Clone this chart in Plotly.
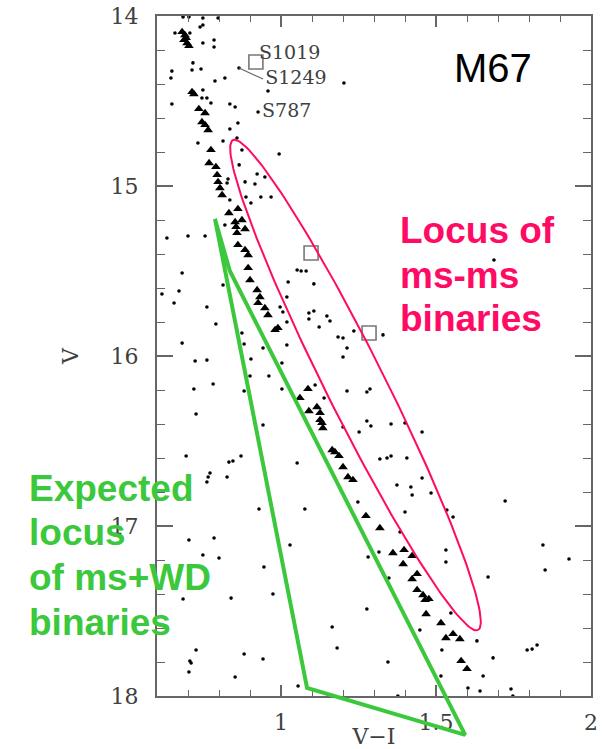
import plotly.graph_objects as go
import math

# ---------------- data (V-I, V) ----------------
tri_vi = [0.681, 0.690, 0.687, 0.694, 0.697, 0.703, 0.713, 0.719,
          0.735, 0.755, 0.745, 0.755, 0.765, 0.774, 0.768, 0.790, 0.794, 0.797, 0.803, 0.810,
          0.832, 0.852, 0.855, 0.858, 0.874, 0.861, 0.884,
          0.861, 0.884, 0.894, 0.894, 0.900, 0.923, 0.932, 0.926, 0.948, 0.958, 0.981, 0.990,
          1.087, 1.061, 1.090, 1.116, 1.126, 1.126, 1.132, 1.135,
          1.165, 1.174, 1.187, 1.200, 1.216, 1.232,
          1.274, 1.319, 1.361, 1.397, 1.423, 1.394, 1.439, 1.423, 1.439, 1.458, 1.465, 1.477,
          1.468, 1.516, 1.532, 1.555, 1.577, 1.581, 1.600]
tri_v = [14.094, 14.112, 14.141, 14.129, 14.159, 14.176, 14.447, 14.459,
         14.547, 14.571, 14.624, 14.641, 14.671, 14.788, 14.865, 14.888, 14.935, 14.976, 15.012, 15.053,
         15.159, 15.212, 15.241, 15.276, 15.200, 15.135, 15.253,
         15.347, 15.376, 15.406, 15.482, 15.553, 15.612, 15.653, 15.688, 15.718, 15.759, 15.847, 15.835,
         16.194, 16.247, 16.324, 16.300, 16.335, 16.376, 16.394, 16.424,
         16.553, 16.565, 16.588, 16.653, 16.712, 16.729,
         16.941, 17.012, 17.159, 17.141, 17.176, 17.224, 17.282, 17.312, 17.376, 17.406, 17.435, 17.429,
         17.518, 17.571, 17.659, 17.635, 17.665, 17.794, 17.841]

dot_vi = [0.684, 0.703, 0.748, 0.797, 0.658, 0.706, 0.748, 0.784, 0.784, 0.748, 0.739,
          0.716, 0.713, 0.742, 0.648, 0.645, 0.787, 0.819,
          0.748, 0.745, 0.761, 0.774, 0.648, 0.835, 0.852, 0.926, 0.958, 1.203,
          0.861, 0.835, 0.732, 0.813, 0.858,
          0.874, 0.994, 0.865, 0.923, 0.948, 0.884, 0.829, 0.826, 0.916, 0.835, 0.887, 0.903, 0.935, 0.968,
          0.819, 0.632, 0.700, 0.755,
          0.681, 0.813, 0.671, 0.616, 0.655, 0.761, 0.790, 0.681, 0.874, 0.881, 0.942, 1.019,
          0.723, 0.761, 0.903, 1.003, 0.900, 0.961, 0.781, 0.719, 0.881, 1.003, 0.726, 0.942,
          0.694, 0.832, 0.845, 0.871, 1.052,
          1.052, 1.023, 1.019, 0.997, 1.006, 1.019,
          1.065, 1.081, 1.106, 1.090, 1.106, 1.090, 1.148, 1.158, 1.123, 1.184, 1.200, 1.235, 1.329,
          1.213, 1.200,
          1.213, 1.277, 1.287, 1.110, 1.139, 1.277, 1.290, 1.252, 1.200, 1.355, 1.400, 1.455,
          1.319, 1.342, 1.355, 1.406, 1.687,
          0.771, 0.765, 0.761, 0.826, 0.929, 1.077, 0.703, 0.784, 0.748, 0.800, 1.029, 0.945,
          0.684, 0.839, 0.974, 1.165, 1.181, 1.277, 1.281, 1.316, 1.348, 1.248,
          0.726, 0.706, 0.710, 0.703, 0.881, 0.942, 0.852, 1.055, 1.345,
          1.374, 1.419, 1.423, 1.455, 1.484, 1.400, 1.535, 1.555, 1.384, 1.532, 1.532,
          1.723, 1.845, 1.929, 1.852, 1.668, 1.548, 1.448, 1.632, 1.519, 1.794, 1.810, 1.826,
          1.684, 1.516, 1.652, 1.603, 1.642, 1.742, 1.748, 1.377, 0.8645]
dot_v = [14.006, 14.006, 14.012, 14.012, 14.100, 14.100, 14.159, 14.141, 14.182, 14.053, 14.065,
         14.276, 14.318, 14.312, 14.324, 14.365, 14.382, 14.365,
         14.435, 14.482, 14.482, 14.512, 14.518, 14.518, 14.535, 14.565, 14.441, 14.394,
         14.629, 14.665, 14.747, 14.735, 14.718,
         14.788, 14.812, 14.876, 14.929, 14.947, 14.976, 14.959, 14.982, 14.988, 15.082, 15.065, 15.100, 15.065, 15.065,
         15.229, 15.306, 15.294, 15.294,
         15.512, 15.582, 15.618, 15.635, 15.688, 15.712, 15.812, 15.924, 15.865, 15.929, 15.953, 15.935,
         16.029, 16.024, 16.018, 16.041, 16.118, 16.118, 16.165, 16.194, 16.206, 16.194, 16.341, 16.406,
         16.588, 16.624, 16.618, 16.588, 16.629,
         15.494, 15.565, 15.653, 15.712, 15.741, 15.800,
         15.500, 15.500, 15.576, 15.747, 15.735, 15.782, 15.765, 15.794, 15.829, 15.888, 15.894, 15.853, 15.876,
         15.953, 16.006,
         16.206, 16.212, 16.194, 16.171, 16.247, 16.382, 16.412, 16.447, 16.418, 16.400, 16.394, 16.447,
         16.606, 16.600, 16.588, 16.600, 15.435,
         16.688, 16.712, 16.741, 16.712, 16.900, 16.900, 17.082, 17.071, 17.171, 17.188, 17.112, 17.241,
         17.429, 17.424, 17.400, 17.594, 17.718, 17.488, 17.182, 17.153, 17.306, 16.859,
         17.729, 17.794, 17.806, 17.859, 17.753, 17.782, 17.888, 17.941, 17.800,
         16.759, 16.771, 16.818, 16.718, 16.806, 16.918, 16.906, 16.947, 17.035, 17.141, 17.212,
         16.853, 17.112, 17.194, 17.259, 17.300, 17.512, 17.612, 17.676, 17.729, 17.729, 17.724, 17.700,
         17.776, 17.882, 17.882, 17.953, 17.971, 17.959, 18.000, 18.000, 14.306]

# highlighted stars (open squares) and their labels
sq_vi = [0.919, 1.097, 1.284]
sq_v = [14.271, 15.394, 15.865]
star_names = ["S1019", "S1249", "S787"]
star_label_vi = [0.929, 0.949, 0.939]
star_label_v = [14.224, 14.371, 14.565]
s1249_vi = [0.8645, 0.9419]          # pointer from the S1249 star to its label
s1249_v = [14.306, 14.371]

# expected ms+WD binaries locus (polygon corners)
wd_vi = [0.787, 0.835, 1.594, 1.084, 0.787]
wd_v = [15.194, 15.500, 18.229, 17.953, 15.194]

# ms-ms binaries locus (ellipse: centre + two conjugate semi-axes, data units)
ell_center = (1.2403, 16.171)
ell_major = (0.3952, 1.441)
ell_minor = (0.0851, -0.0776)

x_range = [0.6, 2.0]
y_range = [18.0, 14.0]

PINK = "#FF0A64"
GREEN = "#3CC83C"
AXC = "#666666"
TXT = "#404040"
W, H = 609, 749

n_e = 200
ell_x = [ell_center[0] + ell_major[0] * math.cos(2 * math.pi * k / n_e) + ell_minor[0] * math.sin(2 * math.pi * k / n_e) for k in range(n_e + 1)]
ell_y = [ell_center[1] + ell_major[1] * math.cos(2 * math.pi * k / n_e) + ell_minor[1] * math.sin(2 * math.pi * k / n_e) for k in range(n_e + 1)]

# ---------------- layout geometry ----------------
xdom = [157 / W, 591 / W]
ydom = [1 - 696 / H, 1 - 16 / H]

def full_range(r, d):
    span = (r[1] - r[0]) / (d[1] - d[0])
    return [r[0] - d[0] * span, r[1] + (1 - d[1]) * span]

x2_range = full_range(x_range, xdom)
y2_range = full_range(y_range, ydom)

fig = go.Figure()
fig.add_trace(go.Scatter(x=dot_vi, y=dot_v, mode="markers",
                         marker=dict(symbol="circle", size=3.6, color="black"),
                         hoverinfo="skip", showlegend=False))
fig.add_trace(go.Scatter(x=tri_vi, y=tri_v, mode="markers",
                         marker=dict(symbol="triangle-up", size=8.5, color="black"),
                         hoverinfo="skip", showlegend=False))
fig.add_trace(go.Scatter(x=sq_vi, y=sq_v, mode="markers",
                         marker=dict(symbol="square-open", size=14, color="#777777", line=dict(width=1.6)),
                         hoverinfo="skip", showlegend=False))
fig.add_trace(go.Scatter(x=s1249_vi, y=s1249_v, mode="lines",
                         line=dict(color="#666666", width=1.2),
                         hoverinfo="skip", showlegend=False))
fig.add_trace(go.Scatter(x=ell_x, y=ell_y, mode="lines",
                         line=dict(color=PINK, width=2),
                         hoverinfo="skip", showlegend=False))
fig.add_trace(go.Scatter(x=star_label_vi, y=star_label_v, mode="text", text=star_names,
                         textposition="middle right",
                         textfont=dict(family="DejaVu Serif", size=19, color=TXT),
                         hoverinfo="skip", showlegend=False))
# polygon on a full-page overlay with identical scale, so it may extend below the frame
fig.add_trace(go.Scatter(x=wd_vi, y=wd_v, mode="lines", xaxis="x2", yaxis="y2",
                         line=dict(color=GREEN, width=4),
                         hoverinfo="skip", showlegend=False))

tickfont = dict(family="DejaVu Serif", size=22, color=TXT)
fig.update_layout(
    width=W, height=H,
    margin=dict(l=0, r=0, t=0, b=0),
    paper_bgcolor="white", plot_bgcolor="rgba(0,0,0,0)",
    xaxis=dict(domain=xdom, range=x_range, showgrid=False, zeroline=False,
               showline=True, linecolor=AXC, linewidth=2, mirror="ticks",
               ticks="inside", ticklen=11, tickwidth=1.5, tickcolor=AXC,
               dtick=0.5, tick0=0, tickfont=tickfont, ticklabelstandoff=6,
               minor=dict(ticks="inside", ticklen=6, dtick=0.1, tick0=0, tickcolor=AXC, tickwidth=1.2, showgrid=False),
               title=dict(text="V\u2212I", font=tickfont, standoff=6), automargin=False),
    yaxis=dict(domain=ydom, range=y_range, showgrid=False, zeroline=False,
               showline=True, linecolor=AXC, linewidth=2, mirror="ticks",
               ticks="inside", ticklen=16, tickwidth=1.5, tickcolor=AXC,
               dtick=1, tick0=0, tickfont=tickfont, ticklabelstandoff=12,
               minor=dict(ticks="inside", ticklen=8, dtick=0.2, tick0=0, tickcolor=AXC, tickwidth=1.2, showgrid=False),
               title=dict(text="V", font=tickfont, standoff=26), automargin=False),
    xaxis2=dict(domain=[0, 1], range=x2_range, visible=False, anchor="y2", fixedrange=True),
    yaxis2=dict(domain=[0, 1], range=y2_range, visible=False, anchor="x2", fixedrange=True),
    showlegend=False,
)

ann_common = dict(xref="x2", yref="y2", showarrow=False)
fig.add_annotation(x=1.684, y=14.306, text="M67", xanchor="center", yanchor="middle",
                   font=dict(family="Liberation Sans", size=40, color="black"), **ann_common)

pink_lines = ["Locus of", "ms-ms", "binaries"]
pink_v = [15.259, 15.524, 15.782]
for t, yv in zip(pink_lines, pink_v):
    fig.add_annotation(x=1.377, y=yv, text="<b>%s</b>" % t, xanchor="left", yanchor="middle",
                       font=dict(family="Liberation Sans", size=37, color=PINK), **ann_common)

green_lines = ["Expected", "locus", "of ms+WD", "binaries"]
green_v = [16.782, 17.041, 17.3, 17.565]
for t, yv in zip(green_lines, green_v):
    fig.add_annotation(x=0.181, y=yv, text="<b>%s</b>" % t, xanchor="left", yanchor="middle",
                       font=dict(family="Liberation Sans", size=37, color=GREEN), **ann_common)

fig.write_html("out.html")
